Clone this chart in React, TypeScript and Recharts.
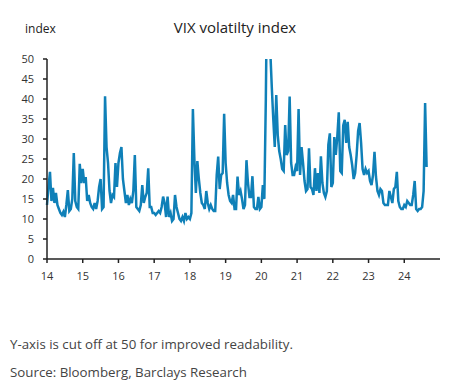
import React from 'react'
import { CartesianGrid, Line, LineChart, XAxis, YAxis } from 'recharts'

// VIX, one reading per half month (1st-15th, 16th-end)
const years = [14, 15, 16, 17, 18, 19, 20, 21, 22, 23, 24]

const vix14 = [13.5, 18, 21.8, 14.5, 17.8, 14, 16.5, 13.5, 12.5, 11.5, 11, 11.8, 10.5, 13.5, 17.2, 12, 12.5, 15, 26.5, 14.5, 13, 12.5, 23.8, 19]
const vix15 = [22.5, 19, 20.5, 14.5, 16, 14, 13, 12.5, 14, 12.5, 14.5, 18, 20, 12.5, 13, 40.7, 28, 24, 17, 14, 16, 15.5, 24, 18]
const vix16 = [24, 26.5, 28, 20, 17, 14, 16, 13.5, 15, 14, 17, 26, 13, 12.5, 12, 13.5, 18.5, 14, 15.5, 16.5, 22.7, 13, 13, 11.5]
const vix17 = [11.5, 11, 11.5, 12, 11.5, 13, 15.6, 14, 10.5, 15.6, 10.5, 11.5, 9.5, 10, 16, 13, 11.5, 10, 9.5, 10.5, 9.5, 11.5, 10, 10.5]
const vix18 = [10, 11.5, 37.5, 25, 16.5, 24.5, 20, 16.5, 14, 13.5, 12.5, 17, 14, 12.5, 13.5, 12.5, 12, 12, 21, 25.6, 17.5, 21, 21.5, 36.3]
const vix19 = [24, 19, 16, 14.5, 14, 16, 12.5, 12.5, 20.6, 16, 17, 15, 12.5, 13.5, 24.7, 19, 15.5, 15.5, 20.7, 13, 12.5, 12.5, 15.5, 12.5]
const vix20 = [13, 18.5, 15, 40, 75, 66, 52, 43, 35, 28, 41, 31, 27, 25, 22.5, 22, 33.5, 26, 27, 40.6, 24, 21, 21, 23]
const vix21 = [22, 37.5, 21, 28, 24, 19.5, 17, 17.5, 27.7, 18, 17.5, 16, 22.7, 17, 21.5, 16.5, 25.7, 19, 16.5, 15.5, 17, 28.6, 31.4, 18]
const vix22 = [19, 30.5, 26, 30.5, 36.7, 22, 21.5, 33.4, 34.8, 29, 34.3, 28, 26, 23.5, 20, 21.5, 26, 32, 34, 29, 22.5, 21, 22.5, 21.5]
const vix23 = [22, 19.5, 18.5, 21, 26.8, 20.5, 17, 16, 17.5, 17, 14, 13.5, 13.5, 13.5, 17, 15.5, 14, 17.5, 18, 21.8, 14.5, 13, 12.5, 12.5]
const vix24 = [13.5, 13, 14.5, 14, 13.5, 13.5, 16, 19.5, 12.5, 12, 12.5, 12.5, 13, 17, 39, 23]

const series = [vix14, vix15, vix16, vix17, vix18, vix19, vix20, vix21, vix22, vix23, vix24]
const yTicks = [0, 5, 10, 15, 20, 25, 30, 35, 40, 45, 50]

const data = years.flatMap((yr, k) =>
    series[k].map((v, i) => ({ t: yr + i / 24, vix: v }))
)

const font = "'Open Sans', 'Noto Sans', sans-serif"
const tickStyle = { fontSize: 11, fill: '#333', fontFamily: font }

const App = () => {
    return (
        <div style={{ position: 'absolute', left: 0, top: 0, width: 450, height: 387, background: '#fff', fontFamily: font }}>
            <div style={{ position: 'absolute', left: 25, top: 20, fontSize: 12, color: '#222' }}>index</div>
            <div style={{ position: 'absolute', left: 0, width: 470, top: 17, textAlign: 'center', fontSize: 15, color: '#222' }}>
                VIX volatilty index
            </div>
            <div style={{ position: 'absolute', left: 0, top: 0 }}>
                <LineChart width={450} height={300} data={data} margin={{ top: 59, right: 10, bottom: 11, left: 0 }}>
                    <CartesianGrid stroke='none' />
                    <XAxis
                        dataKey='t'
                        type='number'
                        domain={[14, 25]}
                        ticks={years}
                        height={30}
                        tickSize={4}
                        tickMargin={9}
                        stroke='#222'
                        strokeWidth={1.5}
                        tick={tickStyle}
                    />
                    <YAxis
                        type='number'
                        domain={[0, 50]}
                        ticks={yTicks}
                        allowDataOverflow
                        width={47}
                        tickSize={4}
                        tickMargin={9}
                        stroke='#222'
                        strokeWidth={1.5}
                        tick={tickStyle}
                    />
                    <Line type='linear' dataKey='vix' stroke='#0f80b8' strokeWidth={2.5} dot={false} isAnimationActive={false} />
                </LineChart>
            </div>
            <div style={{ position: 'absolute', left: 10, top: 335, fontSize: 13.3, color: '#444' }}>
                Y-axis is cut off at 50 for improved readability.
            </div>
            <div style={{ position: 'absolute', left: 10, top: 363, fontSize: 13.3, color: '#444' }}>
                Source: Bloomberg, Barclays Research
            </div>
        </div>
    )
}

export default App
